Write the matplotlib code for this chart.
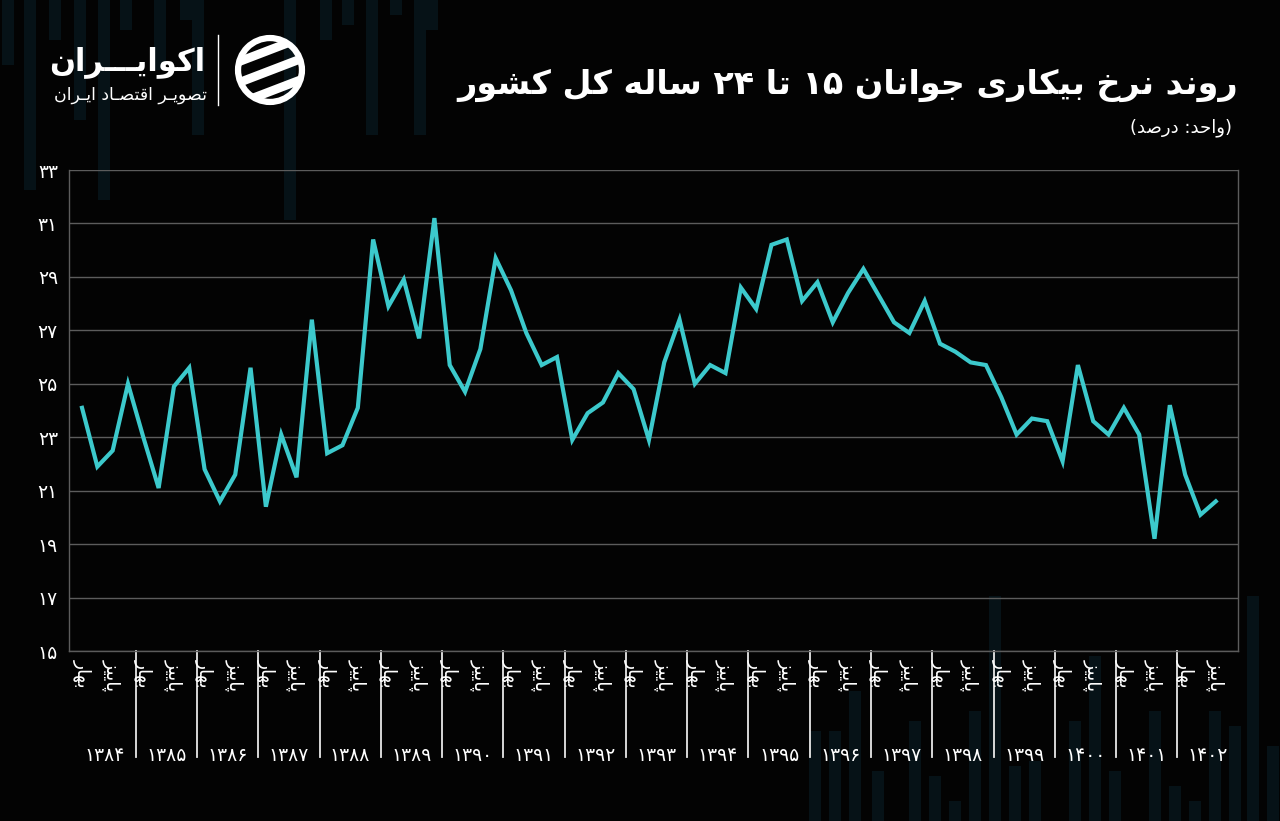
import matplotlib.pyplot as plt
from matplotlib.patches import Rectangle, Circle, Polygon
from matplotlib.transforms import blended_transform_factory

# نرخ بیکاری جوانان ۱۵ تا ۲۴ ساله (درصد) - فصلی، بهار ۱۳۸۴ تا پاییز ۱۴۰۲
years = list(range(1384, 1403))
season_labels = ['بهار', 'پاییز']   # only Q1 and Q3 are labelled
season_offsets = [0, 2]
rates = [24.1, 21.9, 22.5, 25.0, 23.0, 21.1, 24.9, 25.6, 21.8, 20.6,
         21.6, 25.6, 20.4, 23.1, 21.5, 27.4, 22.4, 22.7, 24.1, 30.4,
         27.9, 28.9, 26.7, 31.2, 25.7, 24.7, 26.3, 29.7, 28.5, 26.9,
         25.7, 26.0, 22.9, 23.9, 24.3, 25.4, 24.8, 22.9, 25.8, 27.4,
         25.0, 25.7, 25.4, 28.6, 27.8, 30.2, 30.4, 28.1, 28.8, 27.3,
         28.4, 29.3, 28.3, 27.3, 26.9, 28.1, 26.5, 26.2, 25.8, 25.7,
         24.5, 23.1, 23.7, 23.6, 22.1, 25.7, 23.6, 23.1, 24.1, 23.1,
         19.2, 24.2, 21.6, 20.1, 20.6]
y_ticks = list(range(15, 34, 2))

title = 'روند نرخ بیکاری جوانان ۱۵ تا ۲۴ ساله کل کشور'
subtitle = '(واحد: درصد)'
brand = 'اکوایـــران'
brand_sub = 'تصویـر اقتصـاد ایـران'

# --- minimal persian shaping (matplotlib has no RTL / joining support) ---
# (isolated, final, initial, medial); initial=None -> joins only to the right
FORMS = {
    'ا': ('\uFE8D', '\uFE8E', None, None),
    'ب': ('\uFE8F', '\uFE90', '\uFE91', '\uFE92'),
    'پ': ('\uFB56', '\uFB57', '\uFB58', '\uFB59'),
    'ت': ('\uFE95', '\uFE96', '\uFE97', '\uFE98'),
    'ج': ('\uFE9D', '\uFE9E', '\uFE9F', '\uFEA0'),
    'ح': ('\uFEA1', '\uFEA2', '\uFEA3', '\uFEA4'),
    'خ': ('\uFEA5', '\uFEA6', '\uFEA7', '\uFEA8'),
    'د': ('\uFEA9', '\uFEAA', None, None),
    'ر': ('\uFEAD', '\uFEAE', None, None),
    'ز': ('\uFEAF', '\uFEB0', None, None),
    'س': ('\uFEB1', '\uFEB2', '\uFEB3', '\uFEB4'),
    'ش': ('\uFEB5', '\uFEB6', '\uFEB7', '\uFEB8'),
    'ص': ('\uFEB9', '\uFEBA', '\uFEBB', '\uFEBC'),
    'ق': ('\uFED5', '\uFED6', '\uFED7', '\uFED8'),
    'ک': ('\uFB8E', '\uFB8F', '\uFB90', '\uFB91'),
    'ل': ('\uFEDD', '\uFEDE', '\uFEDF', '\uFEE0'),
    'م': ('\uFEE1', '\uFEE2', '\uFEE3', '\uFEE4'),
    'ن': ('\uFEE5', '\uFEE6', '\uFEE7', '\uFEE8'),
    'ه': ('\uFEE9', '\uFEEA', '\uFEEB', '\uFEEC'),
    'و': ('\uFEED', '\uFEEE', None, None),
    'ی': ('\uFBFC', '\uFBFD', '\uFBFE', '\uFBFF'),
    'ـ': ('\u0640', '\u0640', '\u0640', '\u0640'),
}
DIGITS = '۰۱۲۳۴۵۶۷۸۹0123456789'


def fa_num(n):
    return ''.join('۰۱۲۳۴۵۶۷۸۹'[int(d)] for d in str(n))


def fa(text):
    shaped = []
    for i, c in enumerate(text):
        if c not in FORMS:
            shaped.append(c)
            continue
        f = FORMS[c]
        prev = text[i - 1] if i > 0 else ''
        nxt = text[i + 1] if i + 1 < len(text) else ''
        jp = prev in FORMS and FORMS[prev][2] is not None
        jn = nxt in FORMS and f[2] is not None
        if jp and jn:
            shaped.append(f[3])
        elif jp:
            shaped.append(f[1])
        elif jn:
            shaped.append(f[2])
        else:
            shaped.append(f[0])
    runs = []
    for ch in shaped:
        d = ch in DIGITS
        if runs and d and runs[-1][0]:
            runs[-1][1].append(ch)
        else:
            runs.append([d, [ch]])
    out = ''.join(''.join(cs) for d, cs in reversed(runs))
    return out.translate(str.maketrans('()', ')('))


plt.rcParams['font.family'] = ['DejaVu Sans']
BG = '#030303'
LINE = '#3cc9cc'
GRID = '#5c5c5c'
DECO = '#061217'

fig = plt.figure(figsize=(12.8, 8.21), dpi=100, facecolor=BG)

# faint background bars (decoration of the original poster)
top_bars = [(8, 65), (30, 190), (55, 40), (80, 120), (104, 200), (126, 30),
            (160, 70), (186, 20), (198, 135), (290, 220), (326, 40),
            (348, 25), (372, 135), (396, 15), (420, 135), (432, 30)]
bottom_bars = [(815, 90), (835, 90), (855, 130), (878, 50), (915, 100),
               (935, 45), (955, 20), (975, 110), (995, 225), (1015, 55),
               (1035, 60), (1075, 100), (1095, 165), (1115, 50), (1155, 110),
               (1175, 35), (1195, 20), (1215, 110), (1235, 95), (1253, 225),
               (1273, 75)]
for x, h in top_bars:
    fig.add_artist(Rectangle((x - 6, 821 - h), 12, h, transform=None,
                             facecolor=DECO, edgecolor='none', zorder=-10))
for x, h in bottom_bars:
    fig.add_artist(Rectangle((x - 6, 0), 12, h, transform=None,
                             facecolor=DECO, edgecolor='none', zorder=-10))

ax = fig.add_axes([69 / 1280, 170 / 821, 1169 / 1280, 481 / 821])
ax.set_facecolor('none')

x = list(range(len(rates)))
ax.plot(x, rates, color=LINE, lw=3.0, solid_joinstyle='miter', zorder=3)

ax.set_ylim(15, 33)
ax.set_yticks(y_ticks)
ax.set_yticklabels([fa_num(v) for v in y_ticks], color='white', fontsize=13.5)
ax.tick_params(axis='y', length=0, pad=8)
ax.grid(axis='y', color=GRID, lw=1)
ax.set_axisbelow(True)
ax.set_xlim(-0.85, 75.45)
ax.set_xticks([])
for s in ax.spines.values():
    s.set_color(GRID)
    s.set_linewidth(1)
ax.spines['top'].set_visible(False)

# two level category axis: seasons + years with separators
trans = blended_transform_factory(ax.transData, ax.transAxes)
for k, yr in enumerate(years):
    for lab, off in zip(season_labels, season_offsets):
        q = 4 * k + off
        if q < len(rates):
            ax.text(q, -0.016, fa(lab), transform=trans, rotation=-90,
                    ha='center', va='top', color='white', fontsize=13.5)
    if k > 0:
        ax.plot([4 * k - 0.5] * 2, [0, -0.22], transform=trans, color='#e8e8e8',
                lw=1.3, clip_on=False)
    left = max(4 * k - 0.5, -0.85)
    right = min(4 * k + 3.5, 75.45)
    ax.text((left + right) / 2, -0.218, fa_num(yr), transform=trans,
            ha='center', va='center', color='white', fontsize=13.5)

# header
fig.text(1238 / 1280, 1 - 85 / 821, fa(title), ha='right', va='center',
         color='white', fontsize=24, fontweight='bold')
fig.text(1232 / 1280, 1 - 128 / 821, fa(subtitle), ha='right', va='center',
         color='white', fontsize=13)

# logo
fig.text(205 / 1280, 1 - 62 / 821, fa(brand), ha='right', va='center',
         color='white', fontsize=22, fontweight='bold')
fig.text(207 / 1280, 1 - 95 / 821, fa(brand_sub), ha='right', va='center',
         color='white', fontsize=12.5)
fig.add_artist(plt.Line2D([218 / 1280, 218 / 1280], [1 - 35 / 821, 1 - 105 / 821],
                          color='white', lw=1))
lax = fig.add_axes([233 / 1280, 1 - 107 / 821, 74 / 1280, 74 / 821])
lax.set_xlim(-1.1, 1.1)
lax.set_ylim(-1.1, 1.1)
lax.axis('off')
lax.add_patch(Circle((0, 0), 0.95, facecolor='none', edgecolor='white', lw=4.5))
clip = Circle((0, 0), 1.0, transform=lax.transData)
for c in [-0.62, 0.0, 0.62]:
    stripe = Polygon([(-1.2, c - 0.62), (1.2, c + 0.3), (1.2, c + 0.58), (-1.2, c - 0.34)],
                     closed=True, facecolor='white', edgecolor='none')
    stripe.set_clip_path(clip)
    lax.add_patch(stripe)

fig.savefig('out.png', dpi=100, facecolor=BG)
